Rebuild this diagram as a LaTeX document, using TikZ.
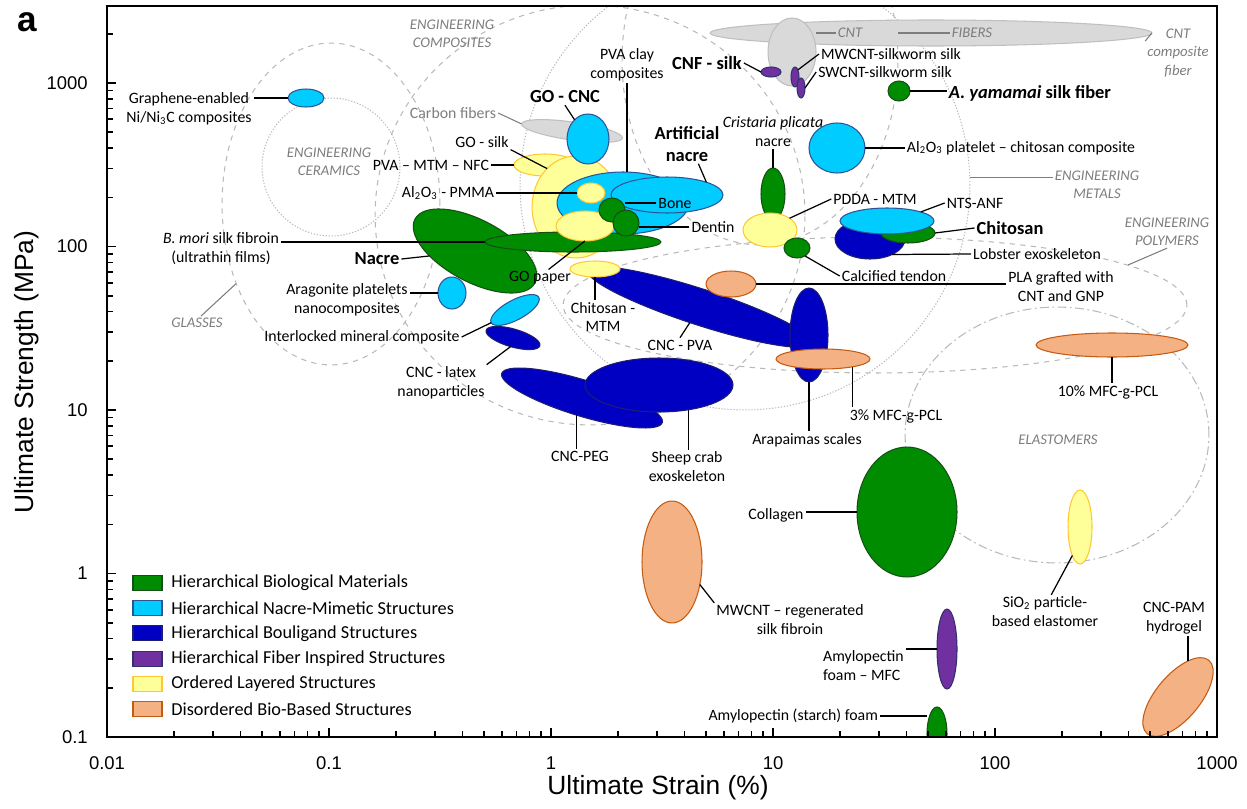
\documentclass[tikz,border=0pt]{standalone}
\usepackage{fontspec}
\setmainfont{Carlito}
\newfontfamily\arialfont{Liberation Sans}
\usetikzlibrary{shapes.geometric}
\definecolor{bio}{RGB}{0,140,0}
\definecolor{bioD}{RGB}{20,80,20}
\definecolor{nac}{RGB}{0,204,255}
\definecolor{nacD}{RGB}{46,84,150}
\definecolor{bou}{RGB}{0,0,195}
\definecolor{bouD}{RGB}{30,30,110}
\definecolor{fib}{RGB}{112,48,160}
\definecolor{fibD}{RGB}{47,50,110}
\definecolor{lay}{RGB}{255,255,153}
\definecolor{layD}{RGB}{255,200,50}
\definecolor{dis}{RGB}{244,177,131}
\definecolor{disD}{RGB}{197,90,17}
\definecolor{cntgray}{RGB}{217,217,217}
\definecolor{cntD}{RGB}{191,191,191}
\definecolor{zonegray}{RGB}{185,185,185}
\definecolor{zonetext}{RGB}{125,125,125}

\begin{document}
\begin{tikzpicture}[x=0.02cm, y=-0.02cm,
    blob/.style={ellipse, inner sep=0pt, outer sep=0pt, line width=0.6pt},
    sz/.style 2 args={minimum width=#1*0.04cm, minimum height=#2*0.04cm},
    hbio/.style={blob, fill=bio, draw=bioD},
    hnac/.style={blob, fill=nac, draw=nacD},
    hbou/.style={blob, fill=bou, draw=bouD},
    hfib/.style={blob, fill=fib, draw=fibD},
    olay/.style={blob, fill=lay, draw=layD},
    dbio/.style={blob, fill=dis, draw=disD},
    cnt/.style={blob, fill=cntgray, draw=cntD},
    zone/.style={ellipse, inner sep=0pt, draw=zonegray, line width=0.6pt},
    dotzone/.style={zone, dash pattern=on 0.7pt off 1pt},
    lbl/.style={font=\fontsize{9}{10.8}\selectfont, inner sep=1pt, align=center},
    blbl/.style={lbl, font=\fontsize{10.5}{12.6}\selectfont\bfseries},
    zlbl/.style={font=\fontsize{8.4}{10.5}\selectfont\itshape, text=zonetext, inner sep=1pt, align=center},
    lead/.style={line width=0.7pt},
    zlead/.style={line width=0.6pt, draw=zonetext},
    axtick/.style={line width=0.9pt},
    axnum/.style={font=\arialfont\fontsize{10.5}{12}\selectfont, inner sep=0pt},
    keyfont/.style={font=\fontsize{10.4}{12}\selectfont, inner sep=0pt}
  ]
  \useasboundingbox (0,0) rectangle (1247,808);

  % property zones and data, clipped to the plot
  \begin{scope}
    \clip (107,6) rectangle (1217,737);
    \node[dotzone, sz={69}{69}] (ceram) at (331,167) {};
    \node[zone, dashed, sz={109}{161}] (glass) at (331,204) {};
    \node[zone, dashed, sz={215}{210}] (compo) at (590,215) {};
    \node[dotzone, sz={225}{225}] (metal) at (745,185) {};
    \node[zone, dashed, sz={138}{185}] (fibzone) at (760,60) {};
    \node[zone, dashed, sz={312}{68}] (polym) at (875,305) {};
    \node[zone, dash pattern=on 5pt off 2pt on 1pt off 2pt, sz={152}{128}] (elast) at (1057,435) {};

    \node[cnt, sz={221}{13}] (cntfib) at (931,33) {};
    \node[cnt, sz={24}{34}] (cntcomp) at (792,52) {};
    \node[cnt, sz={51}{9}, rotate=-8] (carbon) at (572,131) {};

    \node[olay, sz={31}{11}] (pvamtm) at (545,165) {};
    \node[olay, sz={44}{51}] (gosilk) at (576,207) {};
    \node[hnac, sz={21}{25}] (gocnc) at (588,139) {};
    \node[hnac, sz={66}{31}] (pvaclay) at (623,203) {};
    \node[hnac, sz={56}{18}] (artnacre) at (667,195) {};
    \node[olay, sz={14}{10}] (pmma) at (591,193) {};
    \node[hbio, sz={68}{31}, rotate=-28] (nacre) at (475,251) {};
    \node[hbio, sz={88}{10}] (bmori) at (573,242) {};
    \node[olay, sz={29}{15}] (gopaper) at (585,226) {};
    \node[hbio, sz={13}{12}] (bone) at (612,210) {};
    \node[hbio, sz={13}{13}] (dentin) at (626,223) {};

    \node[hnac, sz={27}{10}, rotate=28] (interlock) at (515,310) {};
    \node[hnac, sz={14}{16}] (arag) at (452,293) {};
    \node[hbou, sz={28}{9}, rotate=-16] (cnclatex) at (513,338) {};
    \node[hbou, sz={84}{18}, rotate=-17] (cncpeg) at (582,398) {};
    \node[hbou, sz={74}{27}] (sheep) at (659,385) {};
    \node[hbou, sz={118}{18}, rotate=-18] (cncpva) at (700,307) {};
    \node[olay, sz={25}{8}] (chitmtm) at (595,269) {};
    \node[dbio, sz={25}{13}] (pla) at (731,284) {};
    \node[hbou, sz={19}{47}] (arapaima) at (809,335) {};
    \node[dbio, sz={47}{10}] (mfc3) at (823,359) {};

    \node[hbio, sz={12}{26}] (cristaria) at (773,194) {};
    \node[olay, sz={27}{17}] (pdda) at (770,230) {};
    \node[hbio, sz={13}{10}] (tendon) at (797,248) {};
    \node[hbou, sz={35}{20}] (lobster) at (870,239) {};
    \node[hbio, sz={27}{10}] (chitosan) at (908,233) {};
    \node[hnac, sz={47}{13}] (ntsanf) at (887,221) {};
    \node[hnac, sz={28}{25}] (alchit) at (837,148) {};
    \node[hbio, sz={11}{10}] (yamamai) at (899,91) {};
    \node[hfib, sz={10}{5}] (cnfsilk) at (771,72) {};
    \node[hfib, sz={4}{10}] (mwcnt) at (795,77) {};
    \node[hfib, sz={4}{10}] (swcnt) at (801,88) {};
    \node[hnac, sz={18}{9}] (grni) at (306,98) {};

    \node[dbio, sz={76}{12}] (mfc10) at (1112,345) {};
    \node[hbio, sz={50}{65}] (collagen) at (907,512) {};
    \node[olay, sz={12}{37}] (sio2) at (1080,527) {};
    \node[dbio, sz={30}{61}] (mwsilk) at (672,562) {};
    \node[hfib, sz={10}{40}] (amymfc) at (947,649) {};
    \node[hbio, sz={10}{27}] (starch) at (937,734) {};
    \node[dbio, sz={48}{22}, rotate=50] (cncpam) at (1178,697) {};
  \end{scope}

  % axes
  \draw[line width=1.3pt] (107,6) rectangle (1217,737);
  \foreach \d in {0,...,4} {
    \draw[axtick] ({107+222*\d},737) -- ++(0,-9);
    \foreach \m in {2,...,9}
      \draw[axtick] ({107+222*(\d+log10(\m))},737) -- ++(0,-6);
  }
  \foreach \d in {0,...,3} {
    \draw[axtick] (107,{737-163.5*\d}) -- ++(9,0);
    \foreach \m in {2,...,9}
      \draw[axtick] (107,{737-163.5*(\d+log10(\m))}) -- ++(6,0);
  }
  \draw[axtick] (107,83) -- ++(9,0);
  \draw[axtick] (107,34) -- ++(6,0);
  \foreach \v [count=\i from 0] in {0.01,0.1,1,10,100,1000}
    \node[axnum] (xnum\i) at ({107+222*\i},763) {\v};
  \foreach \v [count=\i from 0] in {0.1,1,10,100,1000}
    \node[axnum, anchor=east] (ynum\i) at (88,{737-163.5*\i}) {\v};
  \node[font=\arialfont\fontsize{15}{18}\selectfont] (xtitle) at (658,788) {Ultimate Strain (\%)};
  \node[font=\arialfont\fontsize{15}{18}\selectfont, rotate=90] (ytitle) at (27,372) {Ultimate Strength (MPa)};
  \node[font=\arialfont\bfseries\fontsize{20}{24}\selectfont] (panel) at (27,22) {a};

  % zone labels
  \node[zlbl] (complbl) at (452,34) {ENGINEERING\\COMPOSITES};
  \node[zlbl] (cerlbl) at (329,162) {ENGINEERING\\CERAMICS};
  \node[zlbl] (glasslbl) at (197,323) {GLASSES};
  \node[zlbl] (metlbl) at (1097,185) {ENGINEERING\\METALS};
  \node[zlbl] (pollbl) at (1167,232) {ENGINEERING\\POLYMERS};
  \node[zlbl] (elalbl) at (1058,440) {ELASTOMERS};
  \node[zlbl] (cntlbl) at (850,33) {CNT};
  \node[zlbl] (fiblbl) at (972,33) {FIBERS};
  \node[zlbl] (ccflbl) at (1178,53) {CNT\\composite\\fiber};
  \node[lbl, text=zonetext] (carblbl) at (453,113) {Carbon fibers};
  \draw[zlead] (glasslbl.60) -- (glass.220);
  \draw[zlead] (metlbl.170) -- (metlbl.170 -| metal.east);
  \draw[zlead] (pollbl.south) -- (polym.9);
  \draw[zlead] (carblbl.east) -- (carbon.west);
  \draw[zlead] (cntlbl.west) -- (cntlbl.west -| cntcomp.east);
  \draw[zlead] (fiblbl.west) -- (fiblbl.west -| fibzone.east);
  \draw[zlead] (ccflbl.160) -- (cntfib.east);

  % material labels
  \node[lbl] (grlbl) at (189,109) {Graphene-enabled\\Ni/Ni\textsubscript{3}C composites};
  \node[blbl] (gocnclbl) at (565,97) {GO - CNC};
  \node[lbl] (pvclbl) at (627,65) {PVA clay\\composites};
  \node[blbl] (artlbl) at (687,144) {Artificial\\nacre};
  \node[lbl] (goslbl) at (482,142) {GO - silk};
  \node[lbl] (pvamlbl) at (431,165) {PVA -- MTM -- NFC};
  \node[lbl] (pmmalbl) at (448,193) {Al\textsubscript{2}O\textsubscript{3} - PMMA};
  \node[lbl] (bmlbl) at (221,249) {\textit{B. mori} silk fibroin\\(ultrathin films)};
  \node[blbl] (nacrelbl) at (377,259) {Nacre};
  \node[lbl] (araglbl) at (347,300) {Aragonite platelets\\nanocomposites};
  \node[lbl] (intlbl) at (362,337) {Interlocked mineral composite};
  \node[lbl] (latlbl) at (441,383) {CNC - latex\\nanoparticles};
  \node[lbl] (peglbl) at (580,456) {CNC-PEG};
  \node[lbl] (shlbl) at (687,467) {Sheep crab\\exoskeleton};
  \node[lbl] (cpvalbl) at (680,345) {CNC - PVA};
  \node[lbl] (chmlbl) at (603,317) {Chitosan -\\MTM};
  \node[lbl] (gplbl) at (540,278) {GO paper};
  \node[lbl] (bonelbl) at (675,203) {Bone};
  \node[lbl] (dentlbl) at (713,227) {Dentin};
  \node[lbl] (crlbl) at (773,132) {\textit{Cristaria plicata}\\nacre};
  \node[blbl] (cnflbl) at (707,63) {CNF - silk};
  \node[lbl] (mwlbl) at (891,54) {MWCNT-silkworm silk};
  \node[lbl] (swlbl) at (885,72) {SWCNT-silkworm silk};
  \node[blbl] (yamlbl) at (1030,93) {\textit{A. yamamai} silk fiber};
  \node[lbl] (alclbl) at (1021,148) {Al\textsubscript{2}O\textsubscript{3} platelet -- chitosan composite};
  \node[lbl] (pddalbl) at (875,199) {PDDA - MTM};
  \node[lbl] (ntslbl) at (975,203) {NTS-ANF};
  \node[blbl] (chlbl) at (1010,228) {Chitosan};
  \node[lbl] (loblbl) at (1037,254) {Lobster exoskeleton};
  \node[lbl] (tenlbl) at (894,276) {Calcified tendon};
  \node[lbl] (plalbl) at (1061,287) {PLA grafted with\\CNT and GNP};
  \node[lbl] (m3lbl) at (896,416) {3\% MFC-g-PCL};
  \node[lbl] (m10lbl) at (1108,392) {10\% MFC-g-PCL};
  \node[lbl] (arlbl) at (807,440) {Arapaimas scales};
  \node[lbl] (collbl) at (776,515) {Collagen};
  \node[lbl] (mwslbl) at (790,620) {MWCNT -- regenerated\\silk fibroin};
  \node[lbl, align=left, anchor=west] (amlbl) at (821,666) {Amylopectin\\foam -- MFC};
  \node[lbl, anchor=east] (stlbl) at (880,716) {Amylopectin (starch) foam};
  \node[lbl] (siolbl) at (1045,612) {SiO\textsubscript{2} particle-\\based elastomer};
  \node[lbl] (cpamlbl) at (1174,618) {CNC-PAM\\hydrogel};

  % leader lines
  \draw[lead] (grni.west) -- (grni.west -| grlbl.east);
  \draw[lead] (gocnclbl.south) -- (gocnc.125);
  \draw[lead] (pvclbl.south) -- (pvclbl.south |- pvaclay.north);
  \draw[lead] (artlbl.-60) -- (artnacre.18);
  \draw[lead] (goslbl.south east) -- (gosilk.127);
  \draw[lead] (pvamtm.west) -- (pvamtm.west -| pvamlbl.east);
  \draw[lead] (pmma.west) -- (pmma.west -| pmmalbl.east);
  \draw[lead] (bmori.west) -- (bmori.west -| bmlbl.east);
  \draw[lead] (nacrelbl.east) -- (nacre);
  \draw[lead] (arag.west) -- (arag.west -| araglbl.east);
  \draw[lead] (intlbl.east) -- (interlock.west);
  \draw[lead] (latlbl.north east) -- (cnclatex.south);
  \draw[lead] (cncpeg.south) -- (cncpeg.south |- peglbl.north);
  \draw[lead] (sheep.-40) -- (sheep.-40 |- shlbl.north);
  \draw[lead] (cpvalbl.north) -- (cncpva);
  \draw[lead] (chitmtm.south) -- (chitmtm.south |- chmlbl.north);
  \draw[lead] (gplbl.45) -- (gopaper.south);
  \draw[lead] (bonelbl.west) -- (bonelbl.west -| bone.east);
  \draw[lead] (dentlbl.west) -- (dentlbl.west -| dentin.east);
  \draw[lead] (crlbl.south) -- (crlbl.south |- cristaria.north);
  \draw[lead] (cnflbl.east) -- (cnfsilk.west);
  \draw[lead] (mwlbl.west) -- (mwcnt.north east);
  \draw[lead] (swlbl.west) -- (swcnt.east);
  \draw[lead] (yamamai.east) -- (yamamai.east -| yamlbl.west);
  \draw[lead] (alchit.east) -- (alchit.east -| alclbl.west);
  \draw[lead] (pddalbl.west) -- (pdda.31);
  \draw[lead] (ntslbl.west) -- (ntsanf.15);
  \draw[lead] (chlbl.west) -- (chitosan.east);
  \draw[lead] (loblbl.west) -- (lobster.-35);
  \draw[lead] (tenlbl.west) -- (tendon.-45);
  \draw[lead] (pla.east) -- (pla.east -| plalbl.west);
  \draw[lead] (mfc3.-15) -- (mfc3.-15 |- m3lbl.north);
  \draw[lead] (mfc10.south) -- (mfc10.south |- m10lbl.north);
  \draw[lead] (arapaima.south) -- (arapaima.south |- arlbl.north);
  \draw[lead] (collagen.west) -- (collagen.west -| collbl.east);
  \draw[lead] (mwsilk.-39) -- (mwslbl.north west);
  \draw[lead] (amymfc.west) -- (amymfc.west -| amlbl.east);
  \draw[lead] (stlbl.east) -- (stlbl.east -| starch.west);
  \draw[lead] (siolbl.70) -- (sio2.-105);
  \draw[lead] (cncpam.north east) -- (cncpam.north east |- cpamlbl.south);

  % legend
  \foreach \s/\t [count=\i from 0] in {hbio/Hierarchical Biological Materials,
      hnac/Hierarchical Nacre-Mimetic Structures, hbou/Hierarchical Bouligand Structures,
      hfib/Hierarchical Fiber Inspired Structures, olay/Ordered Layered Structures,
      dbio/Disordered Bio-Based Structures} {
    \node[\s, rectangle, minimum width=0.58cm, minimum height=0.3cm] (key\i) at (147.5,{583+25.2*\i}) {};
    \node[keyfont, anchor=west] (keytext\i) at (171,{583+25.2*\i}) {\t};
  }
\end{tikzpicture}
\end{document}
